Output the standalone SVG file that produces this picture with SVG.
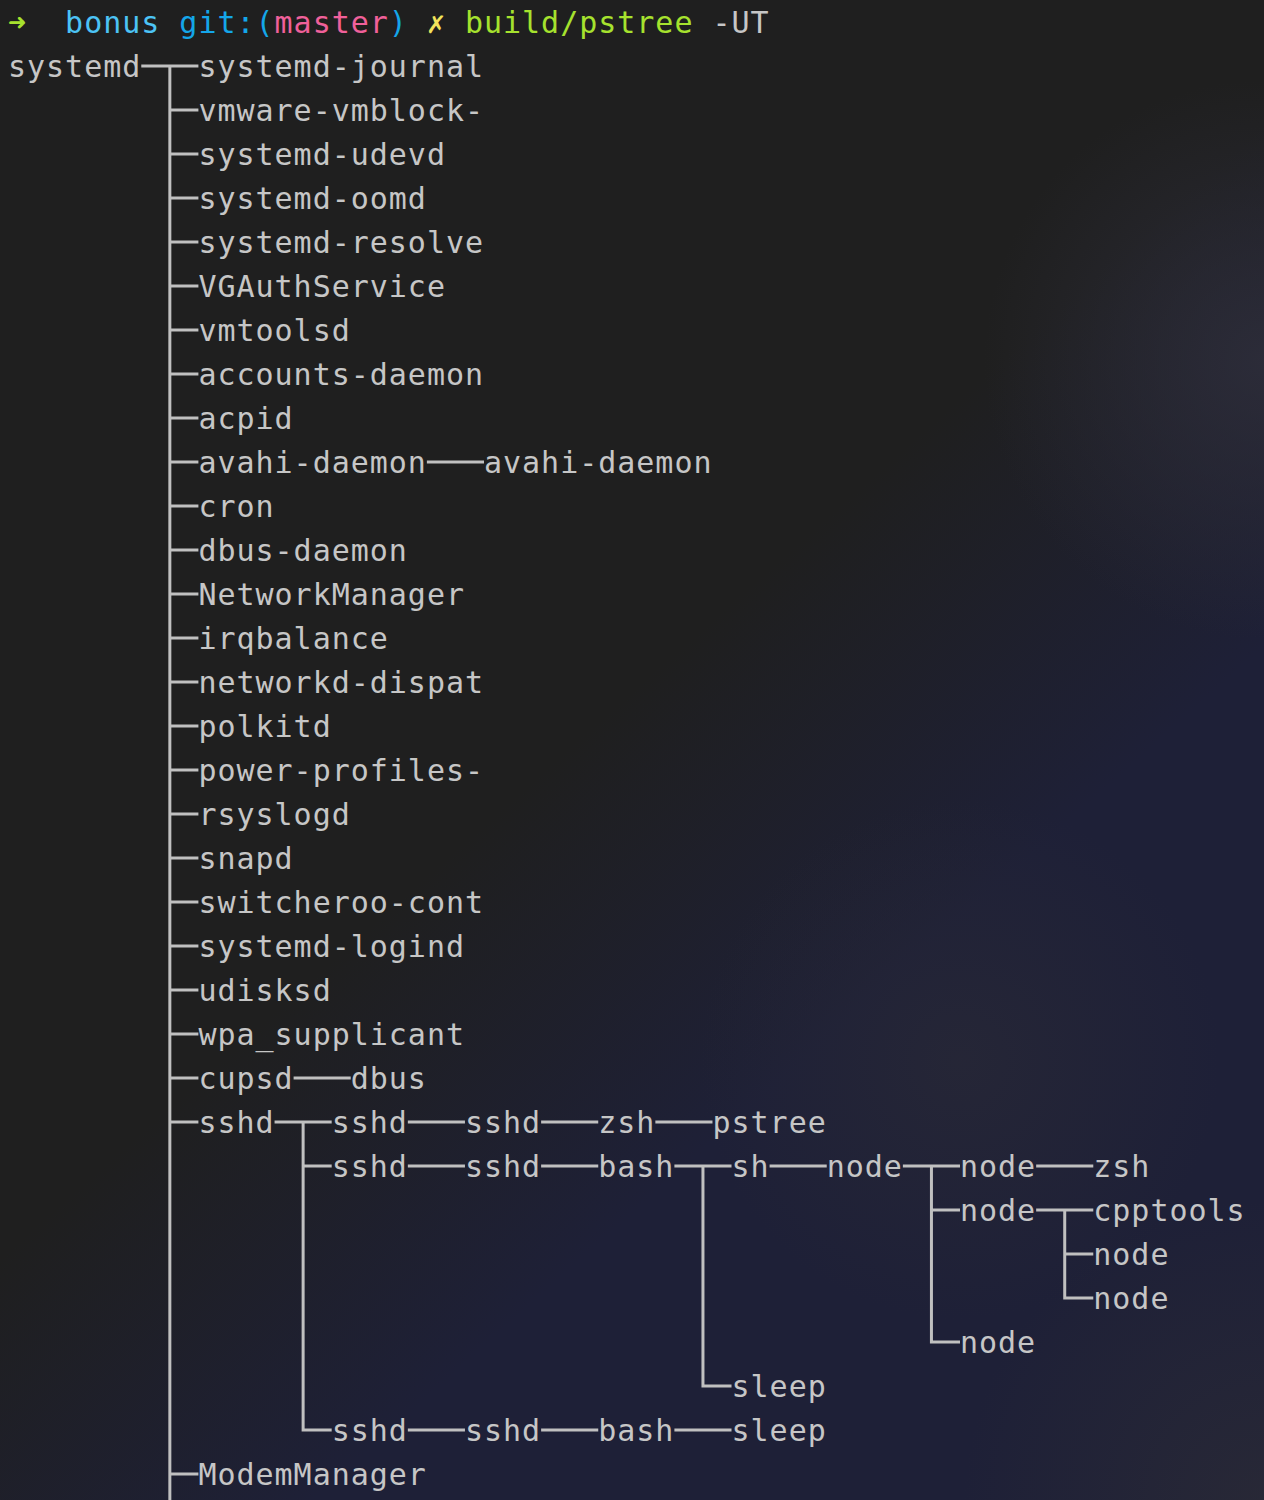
<svg xmlns="http://www.w3.org/2000/svg" width="1264" height="1500" viewBox="0 0 1264 1500">
<defs>
<linearGradient id="bgBlue" gradientUnits="userSpaceOnUse" x1="600" y1="720" x2="860" y2="1010">
<stop offset="0" stop-color="#1f1f1f"/>
<stop offset="1" stop-color="#1e2037"/>
</linearGradient>
<radialGradient id="glowTR" gradientUnits="userSpaceOnUse" cx="1264" cy="360" r="280">
<stop offset="0" stop-color="#2d2d3a" stop-opacity="0.9"/>
<stop offset="1" stop-color="#2d2d3a" stop-opacity="0"/>
</radialGradient>
<radialGradient id="glowMid" gradientUnits="userSpaceOnUse" cx="960" cy="1060" r="260">
<stop offset="0" stop-color="#2a2a36" stop-opacity="0.6"/>
<stop offset="1" stop-color="#2a2a36" stop-opacity="0"/>
</radialGradient>
<radialGradient id="glowBR" gradientUnits="userSpaceOnUse" cx="1264" cy="1500" r="300">
<stop offset="0" stop-color="#2a2a36" stop-opacity="0.8"/>
<stop offset="1" stop-color="#2a2a36" stop-opacity="0"/>
</radialGradient>
<style>
text{font-family:"DejaVu Sans Mono","Liberation Mono",monospace;font-size:30px;letter-spacing:0.98px;fill:#c6c6c6}
.ln{fill:none;stroke:#c0c0c0;stroke-width:3;stroke-linejoin:miter}
.g{fill:#a6e22e}
.c{fill:#4cc3f5}
.b{fill:#14a6e9}
.p{fill:#f0609a}
.y{fill:#f2e35b}
</style>
</defs>
<rect width="1264" height="1500" fill="url(#bgBlue)"/>
<rect width="1264" height="1500" fill="url(#glowTR)"/>
<rect width="1264" height="1500" fill="url(#glowMid)"/>
<rect width="1264" height="1500" fill="url(#glowBR)"/>

<g id="prompt">
<text x="8" y="32.5" class="g" font-family="DejaVu Sans">➜</text>
<text x="65.12" y="32.5" class="c">bonus</text>
<text x="179.36" y="32.5" class="b">git:(</text>
<text x="274.56" y="32.5" class="p">master</text>
<text x="388.8" y="32.5" class="b">)</text>
<text x="426.88" y="32.5" class="y">✗</text>
<text x="464.96" y="32.5" class="g">build/pstree</text>
<text x="712.48" y="32.5">-UT</text>
</g>

<g id="connectors">
<path class="ln" d="M141.28,66 H198.4 M169.84,66 V1500"/>
<path class="ln" d="M169.84,110 H198.4 M169.84,154 H198.4 M169.84,198 H198.4 M169.84,242 H198.4 M169.84,286 H198.4 M169.84,330 H198.4 M169.84,374 H198.4 M169.84,418 H198.4 M169.84,462 H198.4 M169.84,506 H198.4 M169.84,550 H198.4 M169.84,594 H198.4 M169.84,638 H198.4 M169.84,682 H198.4 M169.84,726 H198.4 M169.84,770 H198.4 M169.84,814 H198.4 M169.84,858 H198.4 M169.84,902 H198.4 M169.84,946 H198.4 M169.84,990 H198.4 M169.84,1034 H198.4 M169.84,1078 H198.4 M169.84,1122 H198.4 M169.84,1474 H198.4"/>
<path class="ln" d="M426.88,462 H484"/>
<path class="ln" d="M293.6,1078 H350.72"/>
<path class="ln" d="M274.56,1122 H331.68 M303.12,1122 V1430 H331.68 M303.12,1166 H331.68"/>
<path class="ln" d="M407.84,1122 H464.96 M541.12,1122 H598.24 M655.36,1122 H712.48"/>
<path class="ln" d="M407.84,1166 H464.96 M541.12,1166 H598.24 M674.4,1166 H731.52 M769.6,1166 H826.72 M902.88,1166 H960 M1036.16,1166 H1093.28"/>
<path class="ln" d="M702.96,1166 V1386 H731.52"/>
<path class="ln" d="M931.44,1166 V1342 H960 M931.44,1210 H960"/>
<path class="ln" d="M1036.16,1210 H1093.28 M1064.72,1210 V1298 H1093.28 M1064.72,1254 H1093.28"/>
<path class="ln" d="M407.84,1430 H464.96 M541.12,1430 H598.24 M674.4,1430 H731.52"/>
</g>

<g id="n-systemd"><text x="8" y="76.5">systemd</text></g>
<g id="n-systemd-journal"><text x="198.4" y="76.5">systemd-journal</text></g>
<g id="n-vmware-vmblock"><text x="198.4" y="120.5">vmware-vmblock-</text></g>
<g id="n-systemd-udevd"><text x="198.4" y="164.5">systemd-udevd</text></g>
<g id="n-systemd-oomd"><text x="198.4" y="208.5">systemd-oomd</text></g>
<g id="n-systemd-resolve"><text x="198.4" y="252.5">systemd-resolve</text></g>
<g id="n-vgauthservice"><text x="198.4" y="296.5">VGAuthService</text></g>
<g id="n-vmtoolsd"><text x="198.4" y="340.5">vmtoolsd</text></g>
<g id="n-accounts-daemon"><text x="198.4" y="384.5">accounts-daemon</text></g>
<g id="n-acpid"><text x="198.4" y="428.5">acpid</text></g>
<g id="n-avahi-daemon"><text x="198.4" y="472.5">avahi-daemon</text></g>
<g id="n-avahi-daemon-2"><text x="484" y="472.5">avahi-daemon</text></g>
<g id="n-cron"><text x="198.4" y="516.5">cron</text></g>
<g id="n-dbus-daemon"><text x="198.4" y="560.5">dbus-daemon</text></g>
<g id="n-networkmanager"><text x="198.4" y="604.5">NetworkManager</text></g>
<g id="n-irqbalance"><text x="198.4" y="648.5">irqbalance</text></g>
<g id="n-networkd-dispat"><text x="198.4" y="692.5">networkd-dispat</text></g>
<g id="n-polkitd"><text x="198.4" y="736.5">polkitd</text></g>
<g id="n-power-profiles"><text x="198.4" y="780.5">power-profiles-</text></g>
<g id="n-rsyslogd"><text x="198.4" y="824.5">rsyslogd</text></g>
<g id="n-snapd"><text x="198.4" y="868.5">snapd</text></g>
<g id="n-switcheroo-cont"><text x="198.4" y="912.5">switcheroo-cont</text></g>
<g id="n-systemd-logind"><text x="198.4" y="956.5">systemd-logind</text></g>
<g id="n-udisksd"><text x="198.4" y="1000.5">udisksd</text></g>
<g id="n-wpa-supplicant"><text x="198.4" y="1044.5">wpa_supplicant</text></g>
<g id="n-cupsd"><text x="198.4" y="1088.5">cupsd</text></g>
<g id="n-cupsd-dbus"><text x="350.72" y="1088.5">dbus</text></g>
<g id="n-sshd"><text x="198.4" y="1132.5">sshd</text></g>
<g id="n-sshd-a1"><text x="331.68" y="1132.5">sshd</text></g>
<g id="n-sshd-a2"><text x="464.96" y="1132.5">sshd</text></g>
<g id="n-zsh-a"><text x="598.24" y="1132.5">zsh</text></g>
<g id="n-pstree"><text x="712.48" y="1132.5">pstree</text></g>
<g id="n-sshd-b1"><text x="331.68" y="1176.5">sshd</text></g>
<g id="n-sshd-b2"><text x="464.96" y="1176.5">sshd</text></g>
<g id="n-bash-b"><text x="598.24" y="1176.5">bash</text></g>
<g id="n-sh"><text x="731.52" y="1176.5">sh</text></g>
<g id="n-node-1"><text x="826.72" y="1176.5">node</text></g>
<g id="n-node-2"><text x="960" y="1176.5">node</text></g>
<g id="n-zsh-b"><text x="1093.28" y="1176.5">zsh</text></g>
<g id="n-node-3"><text x="960" y="1220.5">node</text></g>
<g id="n-cpptools"><text x="1093.28" y="1220.5">cpptools</text></g>
<g id="n-node-4"><text x="1093.28" y="1264.5">node</text></g>
<g id="n-node-5"><text x="1093.28" y="1308.5">node</text></g>
<g id="n-node-6"><text x="960" y="1352.5">node</text></g>
<g id="n-sleep-b"><text x="731.52" y="1396.5">sleep</text></g>
<g id="n-sshd-c1"><text x="331.68" y="1440.5">sshd</text></g>
<g id="n-sshd-c2"><text x="464.96" y="1440.5">sshd</text></g>
<g id="n-bash-c"><text x="598.24" y="1440.5">bash</text></g>
<g id="n-sleep-c"><text x="731.52" y="1440.5">sleep</text></g>
<g id="n-modemmanager"><text x="198.4" y="1484.5">ModemManager</text></g>
</svg>
